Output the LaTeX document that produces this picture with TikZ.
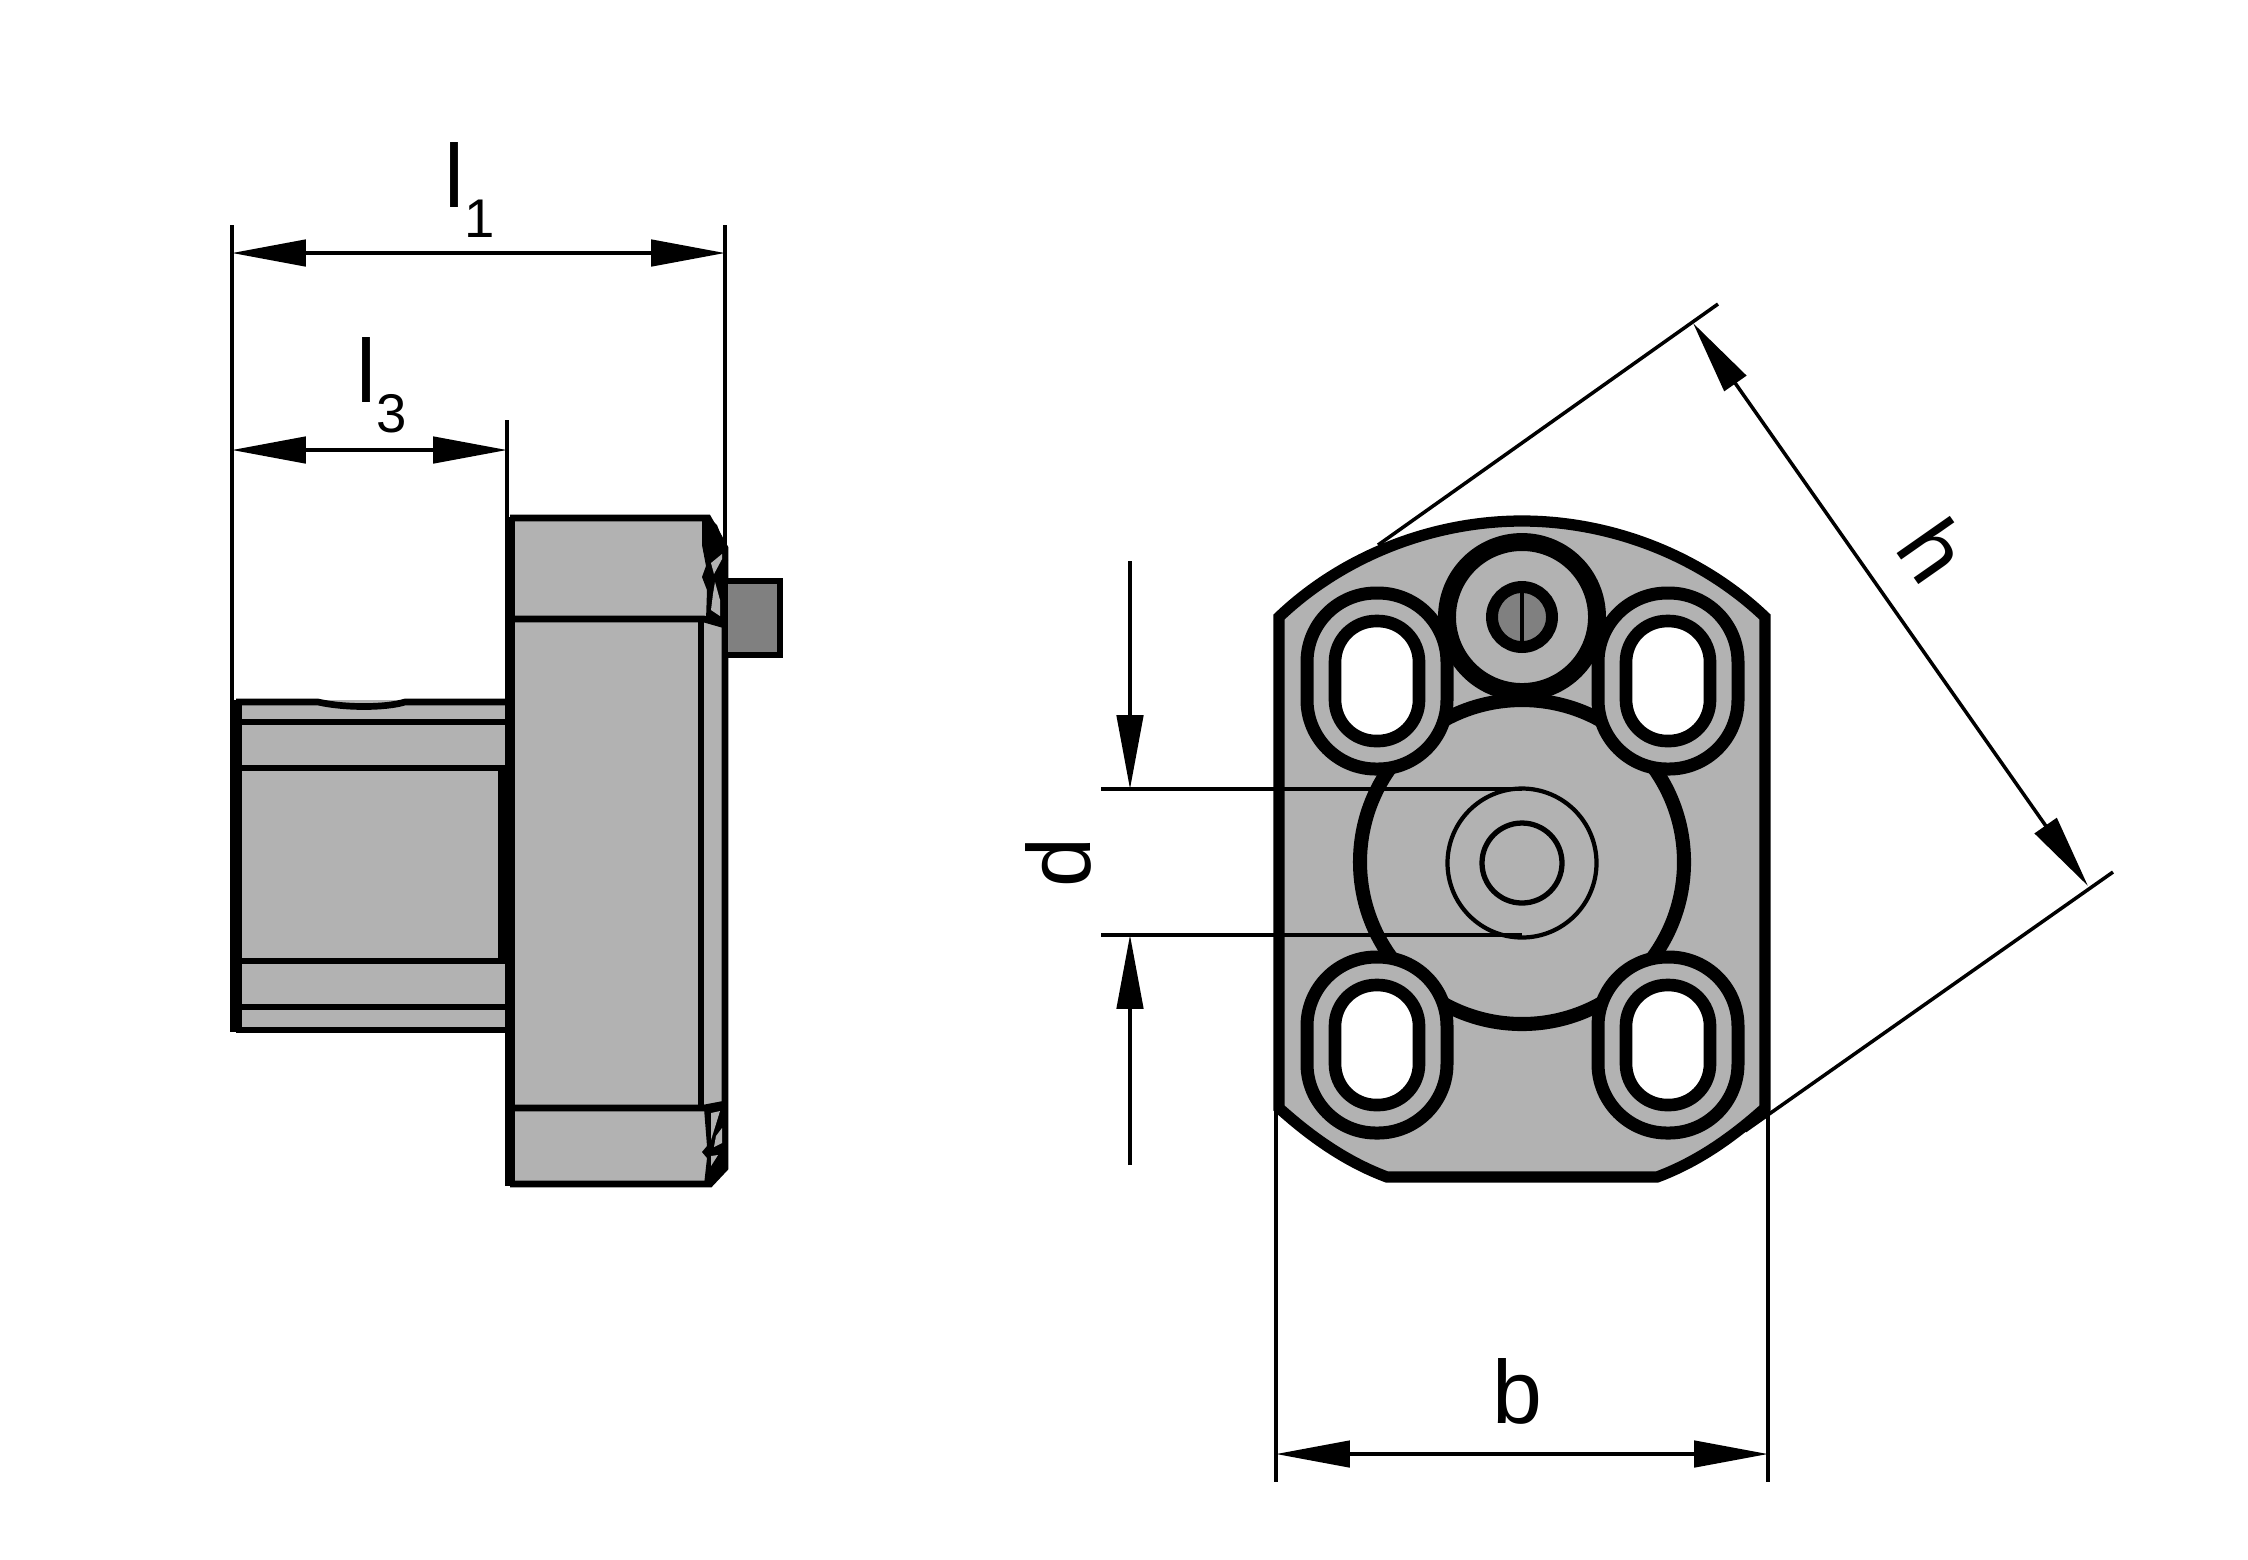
\documentclass[tikz,border=0pt]{standalone}
\usepackage{fontspec}
\setmainfont{Liberation Sans}
\usetikzlibrary{arrows.meta,positioning}
\usepackage{xcolor}
\definecolor{bodygray}{gray}{0.70}
\definecolor{pingray}{gray}{0.50}
\tikzset{
  body/.style={fill=bodygray,draw=black,line width=3.2pt,line join=miter},
  edge/.style={draw=black,line width=1.9pt},
  thin edge/.style={draw=black,line width=1.2pt},
  dimline/.style={draw=black,line width=1pt},
  dimarrow/.style={dimline,{Triangle[length=21pt,width=7.5pt]}-{Triangle[length=21pt,width=7.5pt]}},
  dimtip/.style={dimline,-{Triangle[length=21pt,width=7.5pt]}},
  dimtext/.style={inner sep=0pt,font=\fontsize{25.5}{26}\selectfont}
}
\newcommand{\lowidx}[1]{\raisebox{-8.5pt}{\fontsize{15.5}{16}\selectfont #1}}
\newcommand{\slotpair}[2]{%
  \draw[fill=bodygray,draw=black,line width=3.7pt,rounded corners=0.69cm] (#1-70,#2-88) rectangle (#1+70,#2+88);
  \draw[fill=white,draw=black,line width=3.6pt,rounded corners=0.41cm] (#1-42,#2-60) rectangle (#1+42,#2+60);
}
\begin{document}
\begin{tikzpicture}[x=0.01cm,y=-0.01cm]
\useasboundingbox (0,0) rectangle (2248,1559);

% side view
\fill[bodygray] (236,700) rectangle (510,1030);
\draw[edge] (236,702) -- (318,702) .. controls (345,708) and (385,708) .. (405,702) -- (505,702);
\draw[edge] (236,1030) -- (505,1030);
\draw[edge] (236,722) -- (505,722);
\draw[edge] (236,768) -- (505,768);
\draw[edge] (236,961) -- (505,961);
\draw[edge] (236,1007) -- (505,1007);
\draw[black,line width=3.2pt] (236,700) -- (236,1032);
\draw[black,line width=2.6pt] (503,770) -- (503,960);

\fill[bodygray] (510,518) -- (708,518) -- (725,548) -- (725,1168) -- (710,1184) -- (510,1184) -- cycle;
\draw[edge] (510,518) -- (708,518) -- (725,548) -- (725,1168) -- (710,1184) -- (510,1184);
\draw[black,line width=3pt] (510,517) -- (510,1186);
\draw[edge] (510,619) -- (704,619) -- (725,625);
\draw[edge] (510,1108) -- (704,1108) -- (725,1104);
\draw[edge] (701,619) -- (701,1108);
% knurl
\fill[black] (702,521) -- (708,516) -- (717,525) -- (726,548) -- (728,560) -- (726,622) -- (706,620) -- (707,590) -- (702,577) -- (706,566) -- (702,545) -- cycle;
\fill[bodygray] (711,563) -- (722,554) -- (722,559) -- (714,574) -- cycle;
\fill[bodygray] (711,610) -- (713,594) -- (715,582) -- (720,600) -- (720,616) -- cycle;
\fill[black] (704,1108) -- (726,1105) -- (726,1168) -- (710,1185) -- (704,1185) -- (707,1158) -- (702,1152) -- (707,1146) -- cycle;
\fill[bodygray] (711,1113) -- (720,1111) -- (711,1140) -- cycle;
\fill[bodygray] (716,1136) -- (722,1128) -- (722,1143) -- (714,1147) -- cycle;
\fill[bodygray] (711,1156) -- (718,1155) -- (711,1166) -- cycle;

\filldraw[fill=pingray,draw=black,line width=1.7pt] (728,581) -- (780,581) -- (780,655) -- (728,655);

% end view
\draw[body] (1279,617) .. controls (1344,555) and (1434,521) .. (1522,521) .. controls (1610,521) and (1700,555) .. (1765,617) -- (1765,1108) .. controls (1724,1145) and (1689,1165) .. (1657,1177) -- (1387,1177) .. controls (1355,1165) and (1320,1145) .. (1279,1108) -- cycle;
\draw[fill=bodygray,draw=black,line width=4pt] (1522,862) circle[radius=162];
\slotpair{1377}{681}
\slotpair{1668}{681}
\slotpair{1377}{1045}
\slotpair{1668}{1045}
\filldraw[fill=bodygray,draw=black,line width=5.1pt] (1522,617) circle[radius=75];
\filldraw[fill=pingray,draw=black,line width=3.4pt] (1522,617) circle[radius=30];
\draw[black,line width=1.4pt] (1522,590) -- (1522,644);
\draw[thin edge] (1522,863) circle[radius=74.5];
\draw[thin edge,line width=1.5pt] (1522,863) circle[radius=40];

% dimensions
\draw[dimline] (232,225) -- (232,700);
\draw[dimline] (725,225) -- (725,548);
\draw[dimarrow] (232,253) -- (725,253);
\node[dimtext] (labelone) at (470,190) {l\lowidx{1}};
\draw[dimline] (507,420) -- (507,517);
\draw[dimarrow] (232,450) -- (507,450);
\node[dimtext] (labelthree) at (382,385) {l\lowidx{3}};

\draw[dimline] (1101,789) -- (1522,789);
\draw[dimline] (1101,935) -- (1522,935);
\draw[dimtip] (1130,561) -- (1130,789);
\draw[dimtip] (1130,1165) -- (1130,935);
\node[dimtext,rotate=90] (labeld) at (1058,863) {d};

\draw[dimline] (1276,1108) -- (1276,1482);
\draw[dimline] (1768,1108) -- (1768,1482);
\draw[dimarrow] (1276,1454) -- (1768,1454);
\node[dimtext] (labelb) at (1517,1391) {b};

\draw[dimline] (1378,545) -- (1718,304);
\draw[dimline] (1745,1131) -- (2113,872);
\draw[dimarrow] (1693,323) -- (2088,886);
\node[dimtext,rotate=-55] (labelh) at (1934,550) {h};
\end{tikzpicture}
\end{document}
